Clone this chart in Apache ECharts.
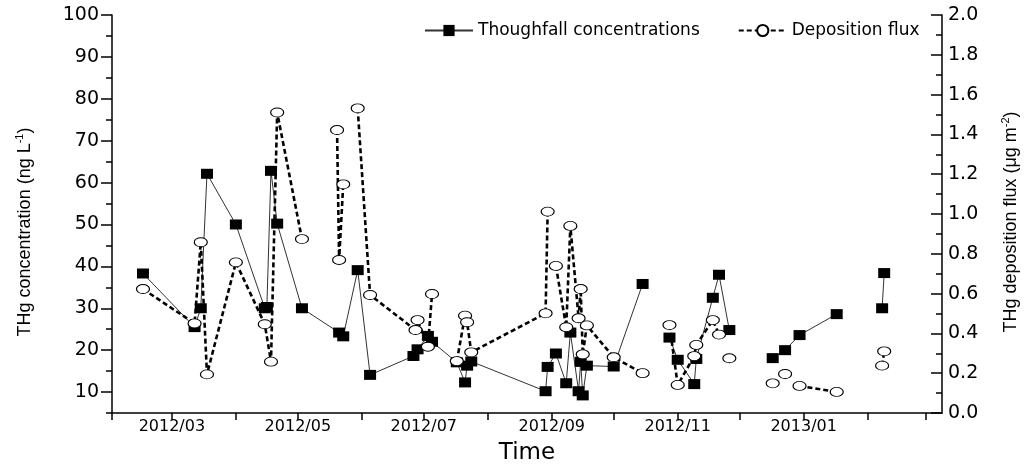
<!DOCTYPE html>
<html><head><meta charset="utf-8">
<script src="https://cdn.jsdelivr.net/npm/echarts@6/dist/echarts.min.js"></script>
<style>html,body{margin:0;padding:0;background:#fff}#c{width:1033px;height:471px}</style>
</head><body><div id="c"></div>
<script>
// ---- data ----
const concDates = ['2012-02-16','2012-03-12','2012-03-15','2012-03-18','2012-04-01','2012-04-15','2012-04-16','2012-04-18','2012-04-21','2012-05-03','2012-05-21','2012-05-23','2012-05-30','2012-06-05','2012-06-26','2012-06-28','2012-07-03','2012-07-05','2012-07-17','2012-07-21','2012-07-22','2012-07-24','2012-08-29','2012-08-30','2012-09-03','2012-09-08','2012-09-10','2012-09-14','2012-09-15','2012-09-16','2012-09-18','2012-10-01','2012-10-15','2012-10-20','2012-10-28','2012-11-01','2012-11-09','2012-11-10','2012-11-18','2012-11-21','2012-11-26','2012-12-05','2012-12-17','2012-12-23','2012-12-30','2013-01-17','2013-01-30','2013-02-08','2013-02-09'];
const concValues = [38.3,25.5,30,62.1,50,30,30.3,62.8,50.2,30,24.2,23.3,39.1,14.1,18.6,20.2,23.4,22,17.1,12.3,16.3,17.3,10.2,16,19.2,12.1,24.2,10.2,17.2,9.2,16.3,16.1,35.8,null,23,17.7,11.9,17.9,32.5,38,24.8,null,18.1,20,23.6,28.6,null,30,38.4];
const fluxDates = ['2012-02-16','2012-03-12','2012-03-15','2012-03-18','2012-04-01','2012-04-15','2012-04-18','2012-04-21','2012-05-03','2012-05-12','2012-05-20','2012-05-21','2012-05-23','2012-05-26','2012-05-30','2012-06-05','2012-06-27','2012-06-28','2012-07-03','2012-07-05','2012-07-10','2012-07-17','2012-07-21','2012-07-22','2012-07-24','2012-08-29','2012-08-30','2012-09-01','2012-09-03','2012-09-08','2012-09-10','2012-09-14','2012-09-15','2012-09-16','2012-09-18','2012-10-01','2012-10-15','2012-10-20','2012-10-28','2012-11-01','2012-11-09','2012-11-10','2012-11-18','2012-11-21','2012-11-24','2012-11-26','2012-12-05','2012-12-17','2012-12-20','2012-12-23','2012-12-27','2012-12-30','2013-01-17','2013-01-30','2013-02-08','2013-02-09'];
const fluxValues = [0.623,0.45,0.858,0.194,0.757,0.446,0.258,1.51,0.874,null,1.422,0.769,1.149,null,1.531,0.593,0.417,0.467,0.333,0.598,null,0.261,0.489,0.456,0.305,0.501,1.012,null,0.739,0.431,0.94,0.476,0.623,0.295,0.44,0.28,0.2,null,0.442,0.141,0.286,0.342,0.467,0.394,null,0.275,null,0.149,null,0.196,null,0.136,0.106,null,0.238,0.31];
const monthTicks = ['2012-02-01','2012-03-01','2012-04-01','2012-05-01','2012-06-01','2012-07-01','2012-08-01','2012-09-01','2012-10-01','2012-11-01','2012-12-01','2013-01-01','2013-02-01','2013-03-01'];
const monthLabels = ['2012-03-01','2012-05-01','2012-07-01','2012-09-01','2012-11-01','2013-01-01'];
const leftTicks = [10,20,30,40,50,60,70,80,90,100];
const leftMinorTicks = [5,15,25,35,45,55,65,75,85,95];

function toTime(s){ const p = s.split('-'); return new Date(+p[0], +p[1]-1, +p[2]).getTime(); }
function pairs(dates, vals){ return dates.map((d,i)=>[toTime(d), vals[i]===null ? '-' : vals[i]]); }
const ellipse = 'path://M0,10A10,10 0 1,1 20,10A10,10 0 1,1 0,10Z';
const blk = {color:'#000', width:1.5};

const chart = echarts.init(document.getElementById('c'), null, {renderer:'canvas'});
chart.setOption({
  backgroundColor:'#fff',
  animation:false,
  grid:{left:112, right:91, top:15, bottom:58, containLabel:false},
  legend:{
    left:419, top:17, itemWidth:48, itemHeight:14, itemGap:38,
    textStyle:{fontFamily:'DejaVu Sans', fontSize:17, color:'#000'},
    data:['Thoughfall concentrations','Deposition flux']
  },
  xAxis:{
    type:'value', min:toTime('2012-02-01'), max:toTime('2013-03-09'), scale:true,
    axisLine:{show:true, lineStyle:blk},
    axisTick:{show:true, length:7, customValues:monthTicks.map(toTime), lineStyle:blk},
    axisLabel:{customValues:monthLabels.map(toTime), fontFamily:'DejaVu Sans', fontSize:16, color:'#000', margin:6,
      formatter:function(v){const d=new Date(v); return d.getFullYear()+'/'+String(d.getMonth()+1).padStart(2,'0');}},
    splitLine:{show:false},
    name:'Time', nameLocation:'middle', nameGap:29,
    nameTextStyle:{fontFamily:'DejaVu Sans', fontSize:23, color:'#000'}
  },
  yAxis:[{
    type:'value', min:5, max:100, position:'left',
    axisLine:{show:true, lineStyle:blk},
    axisTick:{show:true, length:11, customValues:leftTicks, lineStyle:blk},
    axisLabel:{customValues:leftTicks, fontFamily:'DejaVu Sans', fontSize:19, color:'#000', margin:13},
    splitLine:{show:false},
    name:'{a|THg concentration (ng L}{s|-1}{a|)}', nameLocation:'middle', nameGap:76, nameRotate:90,
    nameTextStyle:{padding:[0,36,0,0], rich:{
      a:{fontFamily:'Liberation Sans', fontSize:18, color:'#000', lineHeight:22},
      s:{fontFamily:'Liberation Sans', fontSize:11, color:'#000', lineHeight:12, verticalAlign:'top'}}}
  },{
    type:'value', min:0, max:2, interval:0.2, position:'right',
    axisLine:{show:true, lineStyle:blk},
    axisTick:{show:true, inside:true, length:11, lineStyle:blk},
    minorTick:{show:true, splitNumber:2, length:6, lineStyle:blk},
    axisLabel:{fontFamily:'DejaVu Sans', fontSize:19, color:'#000', margin:6, formatter:function(v){return v.toFixed(1);}},
    splitLine:{show:false}, minorSplitLine:{show:false},
    name:'{a|THg deposition flux (μg m}{s|-2}{a|)}', nameLocation:'middle', nameGap:58, nameRotate:90,
    nameTextStyle:{padding:[0,16,0,0], rich:{
      a:{fontFamily:'Liberation Sans', fontSize:18, color:'#000', lineHeight:22},
      s:{fontFamily:'Liberation Sans', fontSize:11, color:'#000', lineHeight:12, verticalAlign:'top'}}}
  },{
    type:'value', min:5, max:100, position:'left',
    axisLine:{show:false},
    axisTick:{show:true, length:6, customValues:leftMinorTicks, lineStyle:blk},
    axisLabel:{show:false}, splitLine:{show:false}
  }],
  series:[{
    name:'Thoughfall concentrations', type:'line', yAxisIndex:0,
    data:pairs(concDates, concValues),
    symbol:'rect', symbolSize:[12,10],
    itemStyle:{color:'#000'},
    lineStyle:{color:'#333', width:1},
    emphasis:{disabled:true}, z:2
  },{
    name:'Deposition flux', type:'line', yAxisIndex:1,
    data:pairs(fluxDates, fluxValues),
    symbol:ellipse, symbolSize:[13,9],
    itemStyle:{color:'#fff', borderColor:'#000', borderWidth:1},
    lineStyle:{color:'#000', width:2.6, type:[5,3]},
    emphasis:{disabled:true}, z:3
  }]
});
</script></body></html>
